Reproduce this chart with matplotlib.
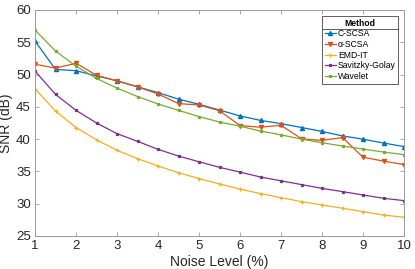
import numpy as np
import matplotlib
matplotlib.use('Agg')
import matplotlib.pyplot as plt
from matplotlib.lines import Line2D

plt.rcParams['font.family'] = ['Liberation Sans', 'DejaVu Sans']

# Datos
ruido = [1, 1.5, 2, 2.5, 3, 3.5, 4, 4.5, 5, 5.5, 6, 6.5, 7, 7.5, 8, 8.5, 9, 9.5, 10]
c_scsa = [55.2, 50.8, 50.6, 49.8, 49.05, 48.1, 47.2, 46.2, 45.4, 44.5, 43.6, 42.9, 42.4,
          41.8, 41.2, 40.5, 40.0, 39.4, 38.85]
a_scsa = [51.6, 51.0, 51.75, 49.9, 49.0, 48.1, 47.0, 45.5, 45.3, 44.4, 42.1, 41.85, 42.15,
          40.05, 39.8, 40.25, 37.2, 36.6, 36.05]
emd_it = [47.8, 44.35, 41.8, 39.9, 38.27, 36.98, 35.84, 34.8, 33.9, 33.05, 32.28, 31.56, 30.94,
          30.32, 29.8, 29.3, 28.77, 28.25, 27.9]
sav_gol = [50.55, 46.93, 44.46, 42.5, 40.85, 39.66, 38.42, 37.38, 36.5, 35.63, 34.9, 34.13, 33.55,
           32.96, 32.38, 31.87, 31.35, 30.84, 30.48]
wavelet = [56.9, 53.65, 51.3, 49.4, 47.9, 46.6, 45.45, 44.45, 43.5, 42.65, 42.0, 41.25, 40.67,
           40.0, 39.45, 38.93, 38.47, 38.0, 37.6]

fig = plt.figure(figsize=(4.15, 2.69), dpi=100)
ax = fig.add_axes([35/415, 33/269, 369/415, 226/269])

series = [
    (c_scsa, 'C-SCSA', (0, 0.447, 0.741), '^', 3),
    (a_scsa, 'α-SCSA', (0.85, 0.325, 0.098), 'v', 3),
    (emd_it, 'EMD-IT', (0.929, 0.694, 0.125), '+', 3.5),
    (sav_gol, 'Savitzky-Golay', (0.494, 0.184, 0.556), 's', 1.8),
    (wavelet, 'Wavelet', (0.466, 0.674, 0.188), 's', 1.8),
]
for y, nombre, color, m, ms in series:
    ax.plot(ruido, y, color=color, marker=m, markersize=ms, linewidth=0.9,
            markeredgewidth=0.9, label=nombre)

ax.set_xlim(1, 10)
ax.set_ylim(25, 60)
ax.set_xticks(range(1, 11))
ax.set_yticks(range(25, 61, 5))
ax.set_xlabel('Noise Level (%)', fontsize=10, color='#262626', labelpad=2)
ax.set_ylabel('SNR (dB)', fontsize=10, color='#262626', labelpad=2)
ax.tick_params(direction='in', top=True, right=True, length=3, width=0.6,
               colors='#999999', labelcolor='#262626', labelsize=9.5, pad=3)
for s in ax.spines.values():
    s.set_color('#999999')
    s.set_linewidth(0.7)

leg = ax.legend(title='Method', loc='upper right', fontsize=6.2, title_fontsize=6.2,
                frameon=True, fancybox=False, edgecolor='#444444', framealpha=1,
                borderpad=0.3, labelspacing=0.2, handlelength=1.3, handletextpad=0.25,
                borderaxespad=0.3, bbox_to_anchor=(0.992, 0.985))
leg.get_title().set_fontweight('bold')
leg.get_frame().set_linewidth(0.6)

# linea bajo el titulo de la leyenda
fig.canvas.draw()
bb = leg.get_window_extent().transformed(fig.transFigure.inverted())
tb = leg.get_title().get_window_extent().transformed(fig.transFigure.inverted())
yl = tb.y0 - 1.5/269
fig.add_artist(Line2D([bb.x0, bb.x1], [yl, yl], color='#444444', linewidth=0.6))

plt.savefig('out.png', dpi=100)
